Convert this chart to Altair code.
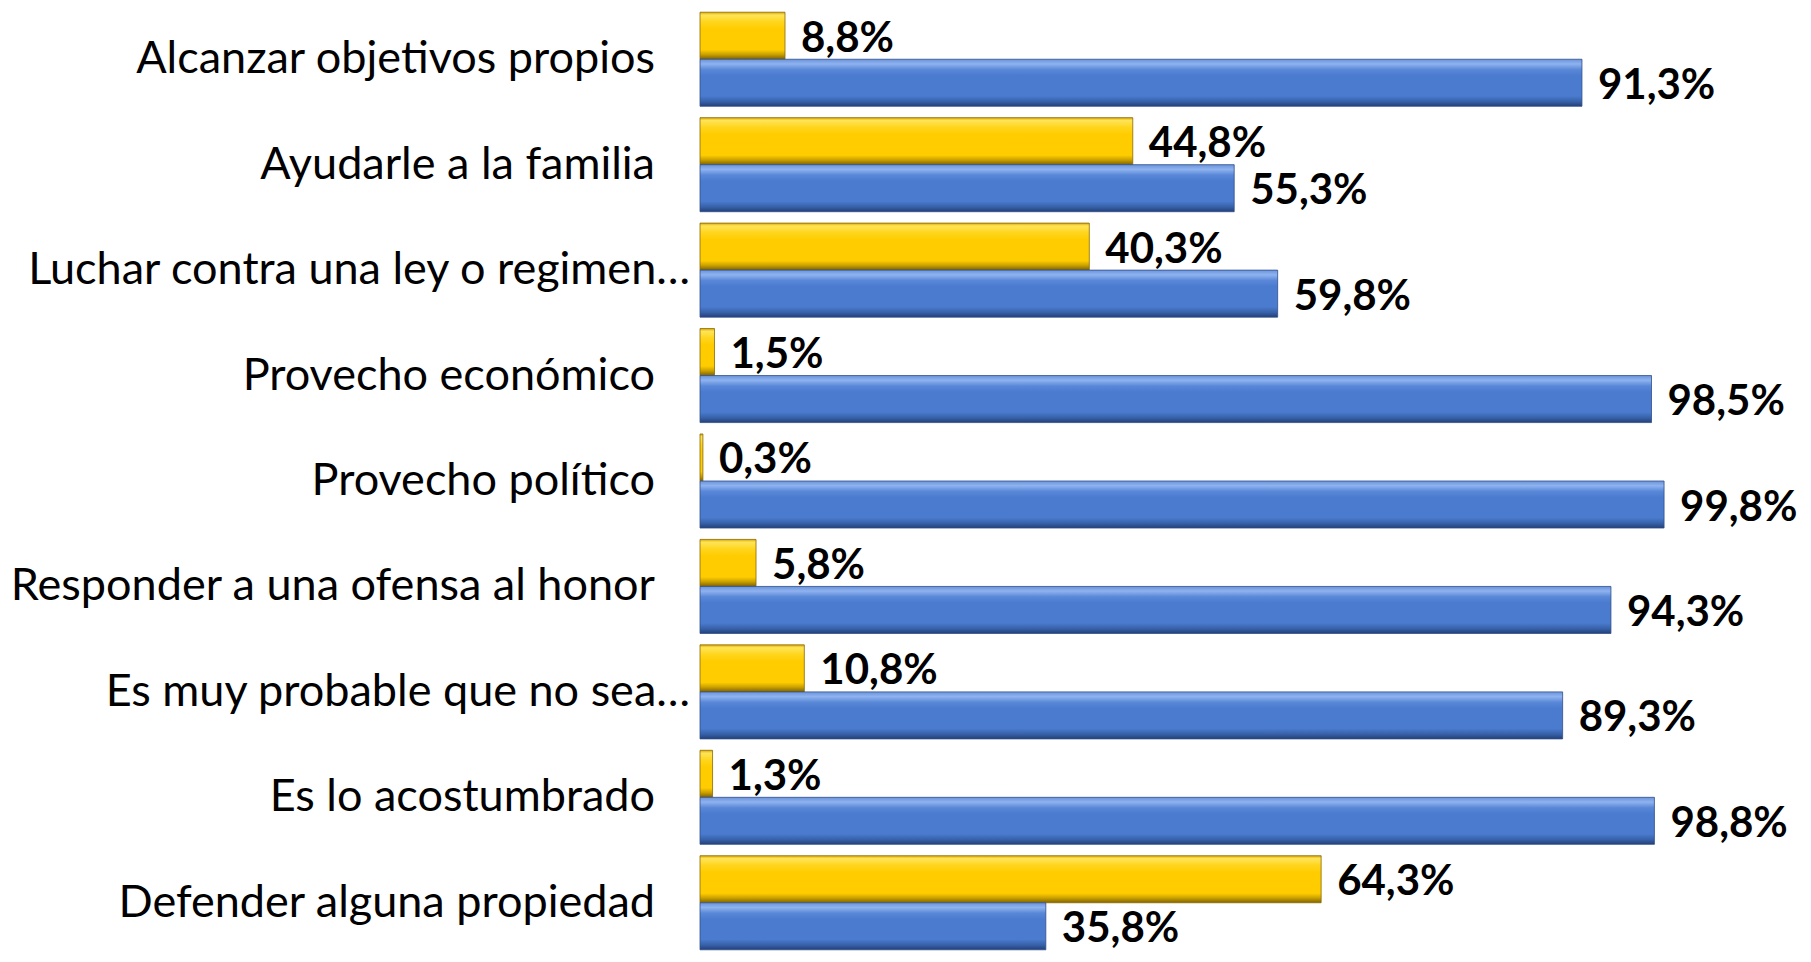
import altair as alt
import pandas as pd

categories = [
    "Alcanzar objetivos propios",
    "Ayudarle a la familia",
    "Luchar contra una ley o regimen…",
    "Provecho económico",
    "Provecho político",
    "Responder a una ofensa al honor",
    "Es muy probable que no sea…",
    "Es lo acostumbrado",
    "Defender alguna propiedad",
]
series_names = ["Sí", "No"]
yes_values = [8.8, 44.8, 40.3, 1.5, 0.3, 5.8, 10.8, 1.3, 64.3]
no_values = [91.3, 55.3, 59.8, 98.5, 99.8, 94.3, 89.3, 98.8, 35.8]

rows = []
for c, y, n in zip(categories, yes_values, no_values):
    rows.append({"cat": c, "serie": series_names[0], "v": y})
    rows.append({"cat": c, "serie": series_names[1], "v": n})
df = pd.DataFrame(rows)
cat_df = pd.DataFrame({"cat": categories})

FONT = "Lato"

y_scale = alt.Scale(paddingInner=0.108, paddingOuter=0.04)
y_enc = alt.Y("cat:N", sort=categories, axis=None, scale=y_scale)
yoff = alt.YOffset("serie:N", sort=series_names,
                   scale=alt.Scale(domain=series_names, paddingInner=0, paddingOuter=0))
x_enc = alt.X("v:Q", axis=None, scale=alt.Scale(domain=[0, 100], nice=False, zero=True))

yellow_grad = alt.LinearGradient(
    gradient="linear", x1=0, x2=0, y1=0, y2=1,
    stops=[
        alt.GradientStop(offset=0.0, color="#D9A800"),
        alt.GradientStop(offset=0.06, color="#FFE45A"),
        alt.GradientStop(offset=0.2, color="#FFD61E"),
        alt.GradientStop(offset=0.35, color="#FFCC00"),
        alt.GradientStop(offset=0.8, color="#FFCC00"),
        alt.GradientStop(offset=0.9, color="#C9A000"),
        alt.GradientStop(offset=1.0, color="#7F6200"),
    ],
)
blue_grad = alt.LinearGradient(
    gradient="linear", x1=0, x2=0, y1=0, y2=1,
    stops=[
        alt.GradientStop(offset=0.0, color="#6A93DC"),
        alt.GradientStop(offset=0.1, color="#8FB3EF"),
        alt.GradientStop(offset=0.22, color="#5A88D8"),
        alt.GradientStop(offset=0.35, color="#4A7BCF"),
        alt.GradientStop(offset=0.78, color="#4A7BCF"),
        alt.GradientStop(offset=0.9, color="#3761A8"),
        alt.GradientStop(offset=1.0, color="#233F78"),
    ],
)

base = alt.Chart(df)

bars_yes = base.transform_filter(alt.datum.serie == series_names[0]).mark_bar(
    color=yellow_grad, stroke="#8A6A00", strokeWidth=0.8
).encode(x=x_enc, y=y_enc, yOffset=yoff)

bars_no = base.transform_filter(alt.datum.serie == series_names[1]).mark_bar(
    color=blue_grad, stroke="#2E4E8A", strokeWidth=0.8
).encode(x=x_enc, y=y_enc, yOffset=yoff)

values = base.transform_calculate(
    lab="replace(format(datum.v, '.1f'), '.', ',') + '%'"
).mark_text(
    align="left", baseline="middle", dx=16, dy=3, font=FONT, fontWeight="bold",
    fontSize=42, color="#000000"
).encode(x=x_enc, y=y_enc, yOffset=yoff, text="lab:N")

cat_lab_full = alt.Chart(cat_df).transform_filter(
    "indexof(datum.cat, '…') < 0"
).mark_text(
    align="right", baseline="middle", font=FONT, fontSize=45, color="#000000"
).encode(y=alt.Y("cat:N", sort=categories, axis=None, scale=y_scale),
         x=alt.value(-45), text="cat:N")

cat_lab_trunc = alt.Chart(cat_df).transform_filter(
    "indexof(datum.cat, '…') >= 0"
).mark_text(
    align="right", baseline="middle", font=FONT, fontSize=45, color="#000000"
).encode(y=alt.Y("cat:N", sort=categories, axis=None, scale=y_scale),
         x=alt.value(-10), text="cat:N")

chart = alt.layer(bars_yes, bars_no, values, cat_lab_full, cat_lab_trunc).properties(
    width=966, height=946,
    autosize=alt.AutoSizeParams(type="none"),
    padding={"left": 692, "top": 0, "right": 136, "bottom": -2},
).configure(background="#FFFFFF").configure_view(strokeWidth=0, stroke=None)

chart.save("out.html", embed_options={"renderer": "svg", "actions": False})
